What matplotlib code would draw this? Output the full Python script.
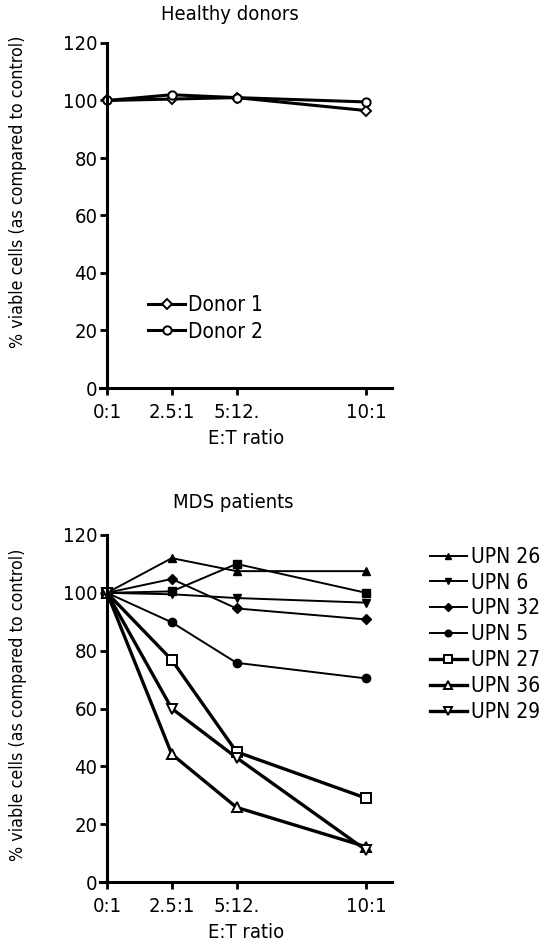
import matplotlib.pyplot as plt
import numpy as np

plt.rcParams['font.family'] = ['DejaVu Sans']
plt.rcParams['font.stretch'] = 'condensed'

x = [0, 2.5, 5, 10]
xlabels = ['0:1', '2.5:1', '5:12.', '10:1']

# healthy donors
donor1 = [100, 100.5, 101, 96.5]
donor2 = [100, 102, 101, 99.5]

# MDS patients
upn26 = [100, 112, 107.5, 107.5]
upn_sq = [100, 100.5, 110, 100]   # filled square, not in legend
upn6 = [100, 99.5, 98.2, 96.6]
upn32 = [100, 104.8, 94.6, 90.8]
upn5 = [100, 89.8, 75.8, 70.4]
upn27 = [100, 76.8, 45.0, 29.0]
upn36 = [100, 44.2, 25.8, 12.2]
upn29 = [100, 60.0, 43.0, 11.0]

fig = plt.figure(figsize=(5.45, 9.47), dpi=100)
ax1 = fig.add_axes([100/545, 1-388/947, 292/545, 345/947])
ax2 = fig.add_axes([100/545, 1-882/947, 292/545, 347/947])


def style(ax):
    ax.set_xlim(-0.27, 11)
    ax.set_ylim(0, 120)
    ax.spines['top'].set_visible(False)
    ax.spines['right'].set_visible(False)
    ax.spines['left'].set_position(('data', 0))
    ax.spines['left'].set_linewidth(2.2)
    ax.spines['bottom'].set_linewidth(2.2)
    ax.set_xticks(x)
    ax.set_xticklabels(xlabels)
    ax.set_yticks(range(0, 121, 20))
    ax.tick_params(width=2, length=5, labelsize=14.5, pad=2)
    ax.tick_params(axis='x', pad=6)
    ax.set_xlabel('E:T ratio', fontsize=14.5, labelpad=5)
    ax.patch.set_visible(False)


style(ax1)
ax1.plot(x, donor1, color='black', lw=2.2, marker='D', ms=5, mfc='white', mew=1.4, label='Donor 1')
ax1.plot(x, donor2, color='black', lw=2.2, marker='o', ms=6, mfc='white', mew=1.4, label='Donor 2')
ax1.legend(loc='lower left', bbox_to_anchor=(0.1, 0.08), frameon=False, fontsize=15,
           handlelength=1.8, handletextpad=0.1, labelspacing=0.3)
fig.text(18/545, 1-192/947, '% viable cells (as compared to control)', rotation=90,
         ha='center', va='center', fontsize=12.8)
fig.text(230/545, 1-14/947, 'Healthy donors', ha='center', va='center', fontsize=14.5)

style(ax2)
thin = dict(color='black', lw=1.4, ms=6)
thick = dict(color='black', lw=2.4, ms=7, mfc='white', mew=1.4)
ax2.plot(x, upn26, marker='^', label='UPN 26', **thin)
ax2.plot(x, upn_sq, marker='s', **thin)
ax2.plot(x, upn6, marker='v', label='UPN 6', **thin)
ax2.plot(x, upn32, marker='D', label='UPN 32', color='black', lw=1.4, ms=5)
ax2.plot(x, upn5, marker='o', label='UPN 5', **thin)
ax2.plot(x, upn27, marker='s', label='UPN 27', **thick)
ax2.plot(x, upn36, marker='^', label='UPN 36', **thick)
ax2.plot(x, upn29, marker='v', label='UPN 29', **thick)
ax2.legend(loc='upper left', bbox_to_anchor=(1.1, 0.99), frameon=False, fontsize=15,
           handlelength=1.8, handletextpad=0.2, labelspacing=0.28, borderaxespad=0,
           markerscale=0.8)
fig.text(18/545, 1-705/947, '% viable cells (as compared to control)', rotation=90,
         ha='center', va='center', fontsize=12.8)
fig.text(233/545, 1-503/947, 'MDS patients', ha='center', va='center', fontsize=14.5)

fig.savefig('out.png', dpi=100)
